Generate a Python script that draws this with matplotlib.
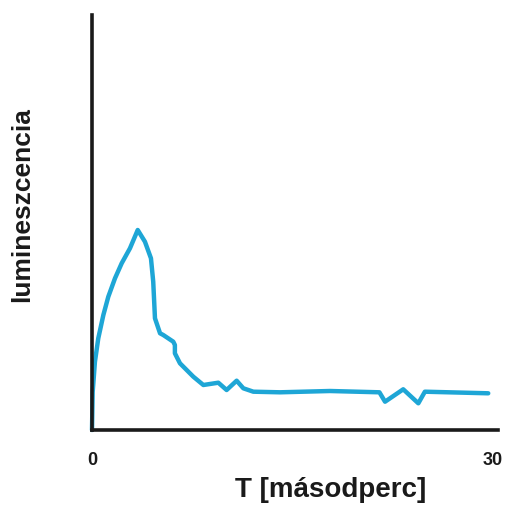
import matplotlib
matplotlib.use("Agg")
import matplotlib.pyplot as plt

# time [s] and luminescence (arbitrary units)
t = [0.0, 0.05, 0.22, 0.47, 0.85, 1.22, 1.72, 2.22, 2.84, 3.42, 3.96, 4.41,
     4.58, 4.71, 5.09, 5.33, 6.08, 6.2, 6.2, 6.58, 7.58, 8.33, 9.45, 10.07,
     10.82, 11.32, 12.07, 14.06, 17.8, 21.5, 21.92, 23.28, 24.41, 24.9, 29.64]
lum = [0.0, 38.0, 68.3, 91.7, 115.0, 133.3, 151.7, 166.7, 181.7, 200.0, 188.3,
       171.7, 148.3, 111.7, 96.7, 95.0, 88.3, 85.0, 76.7, 66.7, 53.3, 45.0,
       47.3, 40.0, 49.3, 41.7, 38.3, 37.7, 39.0, 37.7, 28.3, 40.7, 26.7, 38.3,
       36.7]

xticks = [0, 30]
xticklabels = ["0", "30"]

plt.rcParams['font.family'] = ['Liberation Sans', 'DejaVu Sans']

fig = plt.figure(figsize=(5.10, 5.12), dpi=100)
ax = fig.add_axes([92/510, (512-430)/512, (498-92)/510, (430-15)/512])
ax.plot(t, lum, color='#1ea6d6', lw=3.2, solid_joinstyle='round',
        solid_capstyle='round', clip_on=False)
ax.set_xlim(0, 30.37)
ax.set_ylim(0, 415)
for s in ['top', 'right']:
    ax.spines[s].set_visible(False)
for s in ['left', 'bottom']:
    ax.spines[s].set_linewidth(2.6)
    ax.spines[s].set_color('#1a1a1a')
ax.set_yticks([])
ax.set_xticks(xticks)
ax.set_xticklabels(xticklabels, fontsize=13, fontweight='bold', color='#1a1a1a')
ax.tick_params(axis='x', length=0, pad=16)
fig.text(331/510, 1-490/512, "T [másodperc]", fontsize=20, fontweight='bold',
         color='#1a1a1a', ha='center', va='center')
fig.text(22/510, 1-205/512, "lumineszcencia", fontsize=19, fontweight='bold',
         color='#1a1a1a', ha='center', va='center', rotation=90)
fig.savefig("out.png", dpi=100)
